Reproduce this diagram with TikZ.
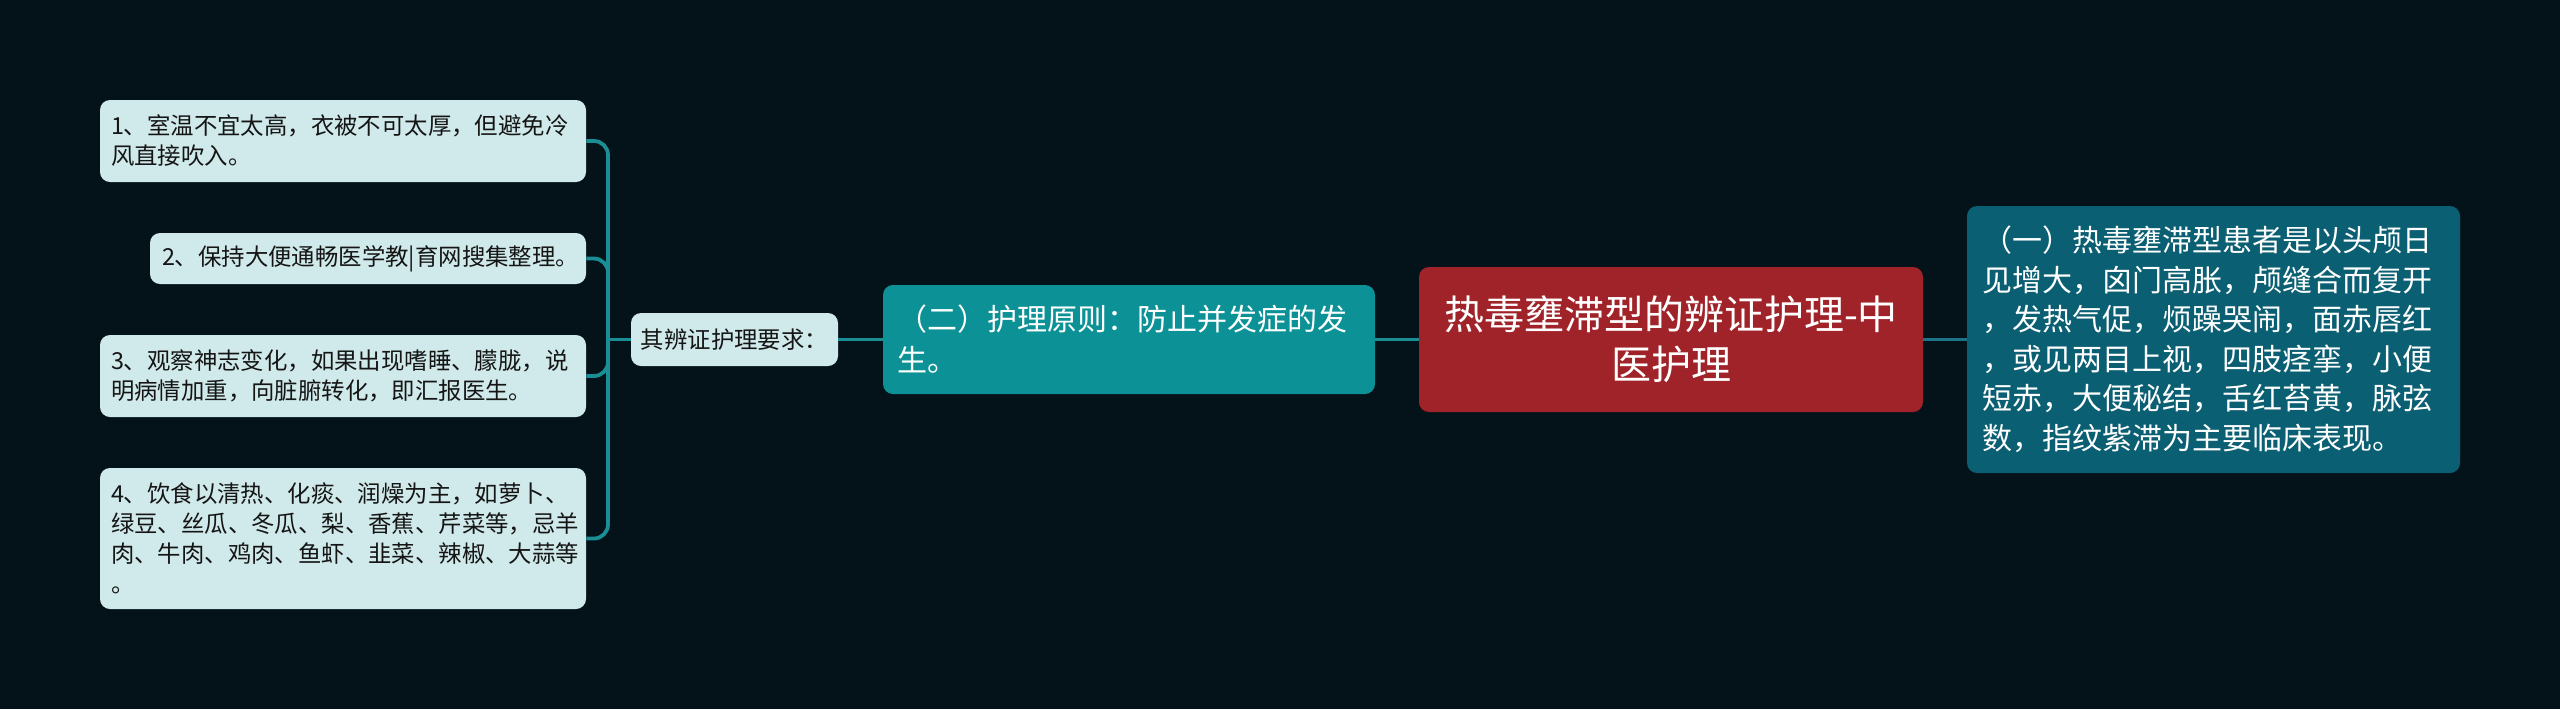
\documentclass[tikz,border=0pt]{standalone}
\usepackage{fontspec}
\newfontfamily\cjk{Noto Sans CJK SC}
\usetikzlibrary{calc}
\definecolor{bgc}{HTML}{041219}
\definecolor{leafc}{HTML}{D0E9EA}
\definecolor{tealc}{HTML}{0C9296}
\definecolor{redc}{HTML}{A02329}
\definecolor{bluec}{HTML}{0B5F73}
\definecolor{linec}{HTML}{1A8E94}
\definecolor{lineb}{HTML}{1C7488}
\definecolor{darktext}{HTML}{151515}
\begin{document}
\begin{tikzpicture}[x=0.5pt,y=-0.5pt,
  leaf/.style={fill=leafc, rounded corners=5pt, text=darktext,
    font=\cjk\fontsize{11.7pt}{15pt}\selectfont, align=left, inner ysep=0pt},
  sub/.style={fill=tealc, rounded corners=5pt, text=white,
    font=\cjk\fontsize{15pt}{20.5pt}\selectfont, align=left, inner ysep=0pt},
  rootbox/.style={fill=redc, rounded corners=5pt, text=white,
    font=\cjk\fontsize{20pt}{25pt}\selectfont, align=center, inner ysep=0pt},
  bluebox/.style={fill=bluec, rounded corners=5pt, text=white,
    font=\cjk\fontsize{15pt}{19.75pt}\selectfont, align=left, inner ysep=0pt},
  conn/.style={draw=linec, line width=1.9pt, rounded corners=7pt},
  connb/.style={draw=lineb, line width=1.9pt}]
\fill[bgc] (0,0) rectangle (2560,709);
\useasboundingbox (0,0) rectangle (2560,709);

\node[leaf, text width=232pt, inner xsep=5.5pt, minimum height=41pt] (n1) at (343,141)
  {1、室温不宜太高，衣被不可太厚，但避免冷\\风直接吹入。};
\node[leaf, text width=206pt, inner xsep=6pt, minimum height=25.5pt] (n2) at (368,258.5)
  {2、保持大便通畅医学教|育网搜集整理。};
\node[leaf, text width=232pt, inner xsep=5.5pt, minimum height=41pt] (n3) at (343,376)
  {3、观察神志变化，如果出现嗜睡、朦胧，说\\明病情加重，向脏腑转化，即汇报医生。};
\node[leaf, text width=232pt, inner xsep=5.5pt, minimum height=70.5pt] (n4) at (343,538.5)
  {4、饮食以清热、化痰、润燥为主，如萝卜、\\绿豆、丝瓜、冬瓜、梨、香蕉、芹菜等，忌羊\\肉、牛肉、鸡肉、鱼虾、韭菜、辣椒、大蒜等\\。};
\node[leaf, align=center, minimum width=103.5pt, minimum height=26.5pt, inner xsep=0pt] (q) at (734.5,339.5)
  {其辨证护理要求：};
\node[sub, text width=232pt, inner xsep=7pt, minimum height=54.5pt] (p) at (1129,339.5)
  {（二）护理原则：防止并发症的发\\生。};
\node[rootbox, minimum width=252pt, minimum height=72.5pt] (root) at (1671,339.5)
  {热毒壅滞型的辨证护理-中\\医护理};
\node[bluebox, text width=231.5pt, inner xsep=7.5pt, minimum height=133.5pt] (b) at (2213.5,339.5)
  {（一）热毒壅滞型患者是以头颅日\\见增大，囟门高胀，颅缝合而复开\\，发热气促，烦躁哭闹，面赤唇红\\，或见两目上视，四肢痉挛，小便\\短赤，大便秘结，舌红苔黄，脉弦\\数，指纹紫滞为主要临床表现。};

\coordinate (j) at (608,339.5);
\draw[conn] (n1.east) -| (j);
\draw[conn] (n2.east) -| (j);
\draw[conn] (n3.east) -| (j);
\draw[conn] (n4.east) -| (j);
\draw[conn] (j) -- (q.west);
\draw[conn] (q.east) -- (p.west);
\draw[conn] (p.east) -- (root.west);
\draw[connb] (root.east) -- (b.west);
\end{tikzpicture}
\end{document}
